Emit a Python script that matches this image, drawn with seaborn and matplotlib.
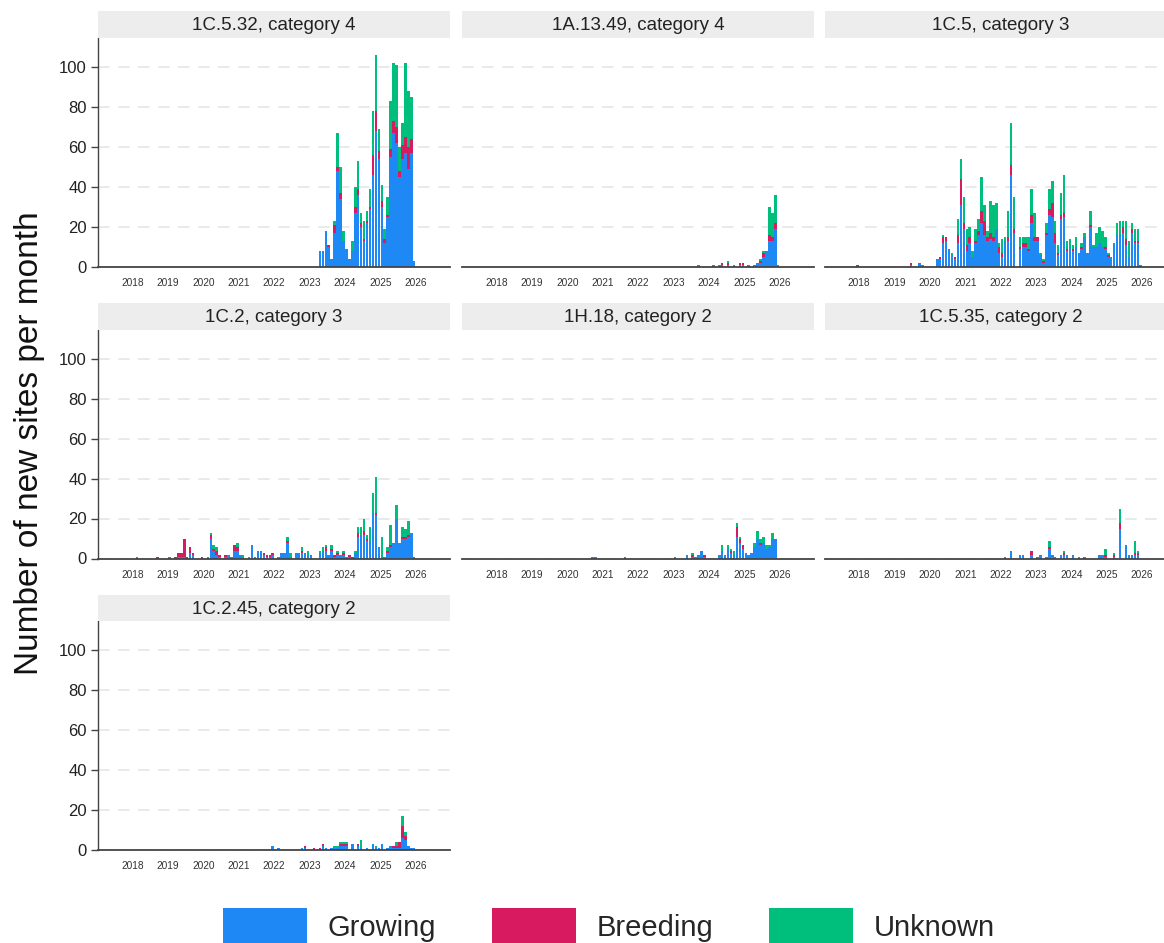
import numpy as np
import matplotlib
matplotlib.use("Agg")
import matplotlib.pyplot as plt
from matplotlib.patches import Patch
import seaborn as sns

# ---------------- data ----------------
categories = ["Growing", "Breeding", "Unknown"]
colors = ["#1E88F5", "#D81B60", "#00BF7D"]
facet_titles = ["1C.5.32, category 4", "1A.13.49, category 4", "1C.5, category 3",
                "1C.2, category 3", "1H.18, category 2", "1C.5.35, category 2",
                "1C.2.45, category 2"]
year_ticks = [2018, 2019, 2020, 2021, 2022, 2023, 2024, 2025, 2026]
y_ticks = [0, 20, 40, 60, 80, 100]

# monthly counts, each list starts in January of its start year
p1_start = 2023
p1_growing = [0, 0, 0, 0, 8, 8, 18, 10, 4, 17, 48, 34,
              13, 9, 4, 8, 27, 36, 20, 13, 22, 29, 46, 68,
              54, 30, 12, 25, 55, 67, 62, 45, 54, 57, 49, 57,
              3]
p1_breeding = [0, 0, 0, 0, 0, 0, 0, 1, 0, 4, 2, 3,
               0, 0, 0, 0, 3, 3, 2, 1, 1, 1, 10, 10,
               4, 3, 2, 1, 4, 6, 8, 3, 7, 8, 11, 7,
               0]
p1_unknown = [0, 0, 0, 0, 0, 0, 0, 0, 0, 2, 17, 13,
              5, 0, 0, 5, 10, 14, 5, 9, 5, 9, 22, 28,
              11, 8, 5, 9, 24, 29, 31, 12, 11, 37, 28, 21,
              0]

p2_start = 2023
p2_growing = [0, 0, 0, 0, 0, 0, 0, 0, 0, 1, 0, 0,
              0, 0, 1, 0, 1, 1, 0, 1, 0, 1, 0, 1,
              1, 0, 1, 0, 1, 2, 2, 5, 8, 13, 13, 19,
              1]
p2_breeding = [0, 0, 0, 0, 0, 0, 0, 0, 0, 0, 0, 0,
               0, 0, 0, 0, 0, 1, 0, 1, 0, 0, 0, 1,
               1, 0, 0, 0, 0, 0, 1, 2, 0, 3, 2, 3,
               0]
p2_unknown = [0, 0, 0, 0, 0, 0, 0, 0, 0, 0, 0, 0,
              0, 0, 0, 0, 0, 0, 0, 1, 0, 0, 0, 0,
              0, 0, 0, 0, 0, 0, 1, 1, 0, 14, 12, 14,
              0]

p3_start = 2018
p3_growing = [0, 0, 0, 0, 0, 0, 0, 0, 0, 0, 0, 0,
              0, 0, 0, 0, 0, 0, 1, 0, 0, 2, 1, 0,
              0, 0, 0, 4, 4, 12, 13, 9, 6, 4, 12, 31,
              19, 8, 12, 5, 12, 16, 22, 16, 13, 14, 13, 19,
              7, 5, 13, 13, 46, 17, 0, 9, 10, 10, 8, 22,
              13, 13, 6, 2, 16, 26, 25, 12, 6, 24, 25, 8,
              10, 8, 10, 7, 9, 15, 7, 20, 10, 10, 12, 10,
              9, 5, 5, 12, 16, 16, 17, 11, 5, 17, 12, 12,
              1]
p3_breeding = [1, 0, 0, 0, 0, 0, 0, 0, 0, 0, 0, 0,
               0, 0, 0, 0, 0, 0, 1, 0, 0, 0, 0, 0,
               0, 0, 0, 0, 1, 3, 2, 0, 0, 1, 4, 13,
               3, 3, 3, 0, 1, 2, 6, 7, 2, 3, 2, 0,
               3, 2, 0, 2, 5, 2, 0, 1, 2, 2, 1, 4,
               2, 2, 0, 1, 1, 3, 7, 5, 1, 2, 2, 1,
               0, 1, 0, 0, 1, 0, 0, 1, 0, 0, 0, 0,
               1, 1, 0, 0, 0, 0, 3, 3, 0, 2, 1, 1,
               0]
p3_unknown = [0, 0, 0, 0, 0, 0, 0, 0, 0, 0, 0, 0,
              0, 0, 0, 0, 0, 0, 0, 0, 0, 0, 0, 0,
              0, 0, 0, 0, 0, 1, 0, 0, 1, 0, 8, 10,
              13, 8, 5, 3, 6, 6, 17, 8, 3, 16, 16, 13,
              2, 7, 2, 13, 21, 16, 0, 5, 3, 3, 6, 13,
              12, 0, 1, 1, 5, 10, 11, 6, 4, 11, 19, 4,
              4, 2, 5, 0, 2, 2, 0, 7, 1, 7, 8, 8,
              5, 1, 0, 0, 6, 7, 3, 9, 8, 3, 6, 6,
              0]

p4_start = 2018
p4_growing = [0, 0, 1, 0, 0, 0, 0, 0, 0, 0, 0, 0,
              0, 1, 0, 0, 1, 1, 1, 0, 3, 2, 0, 0,
              0, 0, 1, 10, 4, 2, 1, 0, 1, 2, 1, 4,
              4, 2, 1, 0, 0, 7, 1, 4, 4, 2, 1, 1,
              2, 0, 1, 3, 3, 8, 1, 0, 3, 3, 3, 3,
              2, 2, 0, 0, 3, 4, 4, 2, 4, 1, 2, 2,
              2, 1, 1, 0, 3, 11, 12, 12, 9, 9, 23, 22,
              6, 1, 1, 3, 6, 8, 20, 8, 10, 10, 11, 13,
              1]
p4_breeding = [0, 0, 0, 0, 0, 0, 0, 0, 0, 1, 0, 0,
               0, 0, 0, 1, 2, 2, 9, 1, 3, 1, 0, 0,
               1, 0, 0, 2, 1, 2, 1, 0, 1, 0, 0, 3,
               2, 0, 0, 0, 0, 0, 0, 0, 0, 1, 1, 1,
               1, 0, 0, 0, 0, 1, 0, 0, 0, 0, 1, 0,
               0, 0, 0, 0, 0, 0, 2, 0, 1, 1, 1, 0,
               1, 0, 1, 1, 0, 2, 0, 2, 1, 0, 0, 1,
               0, 0, 0, 1, 1, 0, 0, 0, 1, 1, 1, 0,
               0]
p4_unknown = [0, 0, 0, 0, 0, 0, 0, 0, 0, 0, 0, 0,
              0, 0, 0, 0, 0, 0, 0, 0, 0, 0, 0, 0,
              0, 0, 0, 1, 2, 2, 0, 0, 0, 0, 0, 0,
              2, 0, 1, 0, 1, 0, 0, 0, 0, 0, 0, 0,
              0, 0, 0, 0, 0, 2, 2, 0, 0, 0, 2, 0,
              2, 0, 0, 0, 1, 2, 1, 0, 2, 0, 1, 0,
              1, 0, 0, 0, 1, 3, 4, 6, 2, 7, 10, 18,
              0, 10, 0, 2, 10, 0, 7, 0, 5, 4, 7, 0,
              0]

p5_start = 2020
p5_growing = [0, 0, 0, 0, 0, 0, 0, 0, 0, 1, 1, 0,
              0, 0, 0, 0, 0, 0, 0, 0, 1, 0, 0, 0,
              0, 0, 0, 0, 0, 0, 0, 0, 0, 0, 0, 0,
              0, 1, 0, 0, 0, 2, 0, 1, 1, 2, 4, 1,
              0, 0, 0, 0, 2, 4, 2, 5, 3, 2, 11, 8,
              5, 3, 2, 3, 6, 10, 7, 8, 5, 6, 10, 10,
              0]
p5_breeding = [0, 0, 0, 0, 0, 0, 0, 0, 0, 0, 0, 0,
               0, 0, 0, 0, 0, 0, 0, 0, 0, 0, 0, 0,
               0, 0, 0, 0, 0, 0, 0, 0, 0, 0, 0, 0,
               0, 0, 0, 0, 0, 0, 0, 1, 0, 0, 0, 1,
               0, 0, 0, 0, 0, 0, 0, 0, 1, 0, 5, 2,
               2, 0, 0, 0, 0, 0, 1, 0, 0, 0, 0, 0,
               0]
p5_unknown = [0, 0, 0, 0, 0, 0, 0, 0, 0, 0, 0, 0,
              0, 0, 0, 0, 0, 0, 0, 0, 0, 0, 0, 0,
              0, 0, 0, 0, 0, 0, 0, 0, 0, 0, 0, 0,
              0, 0, 0, 0, 0, 0, 0, 1, 0, 0, 0, 0,
              0, 0, 0, 0, 0, 3, 0, 2, 1, 2, 2, 1,
              0, 0, 0, 0, 2, 4, 2, 3, 2, 1, 3, 0,
              0]

p6_start = 2022
p6_growing = [0, 0, 1, 0, 4, 0, 0, 2, 2, 0, 0, 2,
              0, 1, 2, 0, 1, 5, 2, 1, 0, 2, 2, 2,
              0, 2, 0, 1, 0, 1, 0, 0, 0, 0, 2, 2,
              1, 0, 0, 1, 0, 15, 0, 7, 2, 2, 2, 2,
              0]
p6_breeding = [0, 0, 0, 0, 0, 0, 0, 0, 0, 0, 0, 2,
               0, 0, 0, 0, 0, 1, 0, 0, 0, 0, 1, 0,
               0, 0, 0, 0, 0, 0, 0, 0, 0, 0, 0, 0,
               1, 0, 0, 1, 0, 3, 0, 0, 0, 0, 1, 1,
               0]
p6_unknown = [0, 0, 0, 0, 0, 0, 0, 0, 0, 0, 0, 0,
              0, 0, 0, 0, 0, 3, 0, 0, 0, 0, 1, 0,
              0, 0, 0, 0, 0, 0, 0, 0, 0, 0, 0, 0,
              3, 0, 0, 1, 0, 7, 0, 0, 0, 0, 6, 1,
              0]

p7_start = 2022
p7_growing = [2, 0, 1, 0, 0, 0, 0, 0, 0, 0, 1, 1,
              0, 0, 0, 0, 0, 2, 1, 0, 1, 1, 1, 2,
              2, 2, 0, 3, 0, 2, 1, 0, 1, 0, 3, 1,
              1, 3, 0, 1, 2, 1, 1, 1, 6, 5, 2, 1,
              1]
p7_breeding = [0, 0, 0, 0, 0, 0, 0, 0, 0, 0, 0, 1,
               0, 0, 1, 0, 1, 1, 0, 0, 0, 0, 0, 1,
               1, 1, 0, 0, 0, 1, 0, 0, 0, 0, 0, 0,
               0, 0, 0, 0, 0, 1, 1, 3, 6, 2, 0, 0,
               0]
p7_unknown = [0, 0, 0, 0, 0, 0, 0, 0, 0, 0, 0, 0,
              0, 0, 0, 0, 0, 0, 0, 0, 0, 1, 1, 1,
              1, 1, 0, 0, 0, 0, 4, 0, 0, 0, 0, 1,
              0, 0, 0, 0, 0, 0, 2, 0, 5, 2, 0, 0,
              0]

panels = [
    (p1_start, p1_growing, p1_breeding, p1_unknown),
    (p2_start, p2_growing, p2_breeding, p2_unknown),
    (p3_start, p3_growing, p3_breeding, p3_unknown),
    (p4_start, p4_growing, p4_breeding, p4_unknown),
    (p5_start, p5_growing, p5_breeding, p5_unknown),
    (p6_start, p6_growing, p6_breeding, p6_unknown),
    (p7_start, p7_growing, p7_breeding, p7_unknown),
]

# ---------------- style ----------------
sns.set_theme(style="white")
plt.rcParams["font.family"] = ["Liberation Sans", "DejaVu Sans"]

W, H = 1164, 943
fig = plt.figure(figsize=(W / 100, H / 100), dpi=100)

col_left = [98, 462, 824.5]
panel_w = 352
row_box = [(37.7, 266.7), (329.5, 558.5), (621.0, 850.0)]
strip_h = 26.5
text_col = "#222222"
axis_col = "#444444"

for k, (start, g, b, u) in enumerate(panels):
    r, c = divmod(k, 3)
    top, bot = row_box[r]
    left = col_left[c]
    ax = fig.add_axes([left / W, 1 - bot / H, panel_w / W, (bot - top) / H])
    n = len(g)
    x = start + (np.arange(n) - 0.5) / 12.0
    base = np.zeros(n)
    for vals, col, lab in zip((g, b, u), colors, categories):
        v = np.asarray(vals, dtype=float)
        ax.bar(x, v, width=0.85 / 12, bottom=base, color=col, linewidth=0, label=lab)
        base += v
    ax.set_xlim(2017.02, 2026.97)
    ax.set_ylim(0, 114.5)
    ax.set_xticks(year_ticks)
    ax.set_xticklabels([str(y) for y in year_ticks])
    ax.set_yticks(y_ticks)
    ax.yaxis.grid(True, color="#E6E6E6", linestyle=(0, (7, 5)), linewidth=1.2)
    ax.xaxis.grid(False)
    ax.set_axisbelow(True)
    for s in ("top", "right"):
        ax.spines[s].set_visible(False)
    ax.spines["bottom"].set_color(axis_col)
    ax.spines["bottom"].set_linewidth(1.3)
    ax.tick_params(axis="x", length=0, labelsize=7.3, pad=8, labelcolor="#333333")
    if c == 0:
        ax.spines["left"].set_color(axis_col)
        ax.spines["left"].set_linewidth(1.0)
        ax.tick_params(axis="y", length=5, width=1.0, color=axis_col, pad=3,
                       labelsize=12, labelcolor=text_col, left=True)
    else:
        ax.spines["left"].set_visible(False)
        ax.tick_params(axis="y", length=0, labelleft=False)
    ax.set_xlabel("")
    ax.set_ylabel("")

    # facet strip
    sax = fig.add_axes([left / W, 1 - top / H, panel_w / W, strip_h / H])
    sax.set_facecolor("#EDEDED")
    sax.set_xticks([])
    sax.set_yticks([])
    for s in sax.spines.values():
        s.set_visible(False)
    sax.text(0.5, 0.45, facet_titles[k], ha="center", va="center",
             fontsize=13.5, color=text_col, transform=sax.transAxes)

fig.text(30 / W, 1 - 443 / H, "Number of new sites per month", rotation=90,
         ha="center", va="center", fontsize=24, color="#111111")

handles = [Patch(facecolor=c_, edgecolor="none") for c_ in colors]
fig.legend(handles, categories, loc="upper center", bbox_to_anchor=(0.523, 1 - 908 / H),
           ncol=3, frameon=False, fontsize=21, handlelength=2.88, handleheight=1.55,
           handletextpad=0.72, columnspacing=1.9, borderpad=0, borderaxespad=0)

fig.savefig("out.png", dpi=100)
